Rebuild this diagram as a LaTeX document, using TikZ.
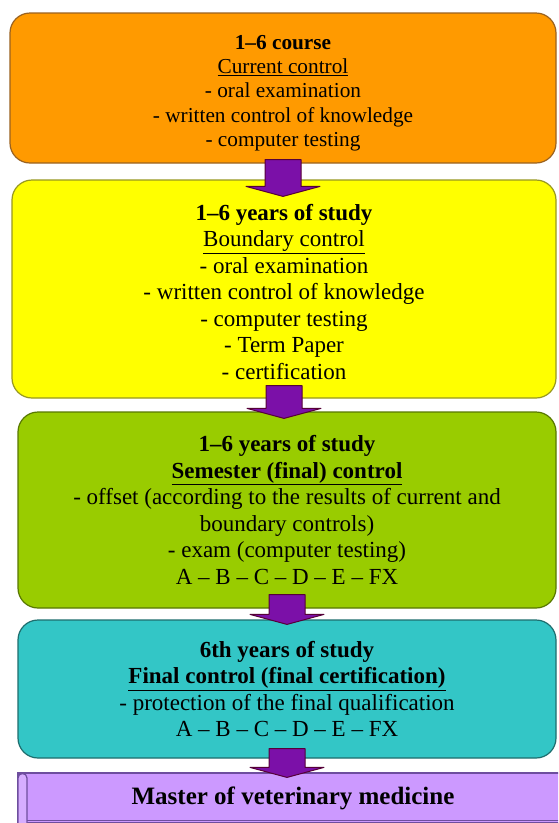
\documentclass[tikz,border=0pt]{standalone}
\usepackage{fontspec}
\setmainfont{Liberation Serif}
\usetikzlibrary{calc}

\definecolor{coursefill}{HTML}{FF9A00}
\definecolor{courseline}{HTML}{9A6220}
\definecolor{boundfill}{HTML}{FFFF00}
\definecolor{boundline}{HTML}{989820}
\definecolor{semfill}{HTML}{99CC00}
\definecolor{semline}{HTML}{587800}
\definecolor{finalfill}{HTML}{33C6C6}
\definecolor{finalline}{HTML}{1E6E6E}
\definecolor{masterfill}{HTML}{CC99FF}
\definecolor{masterline}{HTML}{6E4E9E}
\definecolor{arrowfill}{HTML}{7B10A8}
\definecolor{arrowline}{HTML}{560038}

\newcommand{\stagearrow}[4]{%
  \draw[flow] let \p1=(#1.south), \p2=(#2.north) in
    (\x1-18pt,\y1+#3pt) -- (\x1-18pt,\y2-#4pt+10pt) -- (\x1-37pt,\y2-#4pt+10pt) -- (\x1,\y2-#4pt)
    -- (\x1+37pt,\y2-#4pt+10pt) -- (\x1+18pt,\y2-#4pt+10pt) -- (\x1+18pt,\y1+#3pt) -- cycle;}

\begin{document}
\begin{tikzpicture}[x=1pt,y=-1pt,stage/.style={rounded corners=20pt,line width=1.2pt,align=center,inner sep=0pt,font=\fontsize{23}{26.5}\selectfont},flow/.style={fill=arrowfill,draw=arrowline,line width=1pt,line join=round},scroll/.style={draw=masterline,fill=masterfill,line width=1.2pt}]
\fill[white] (0,0) rectangle (558,823);
\clip (0,0) rectangle (558,823);
% stages
\node[stage,fill=coursefill,draw=courseline,minimum width=546pt,minimum height=150pt,font=\fontsize{21.3}{24.2}\selectfont] (course) at (283,88) {\rule{0pt}{24.5pt}\textbf{1--6 course}\\\underline{Current control}\\- oral examination\\- written control of knowledge\\- computer testing};
\node[stage,fill=boundfill,draw=boundline,minimum width=544pt,minimum height=218pt] (boundary) at (284,289) {\rule{0pt}{21.6pt}\textbf{1--6 years of study}\\\underline{Boundary control}\\- oral examination\\- written control of knowledge\\- computer testing\\- Term Paper\\- certification};
\node[stage,fill=semfill,draw=semline,minimum width=538pt,minimum height=196pt] (semester) at (287,510) {\textbf{1--6 years of study}\\\textbf{\underline{Semester (final) control}}\\- offset (according to the results of current and\\boundary controls)\\- exam (computer testing)\\A -- B -- C -- D -- E -- FX};
\node[stage,fill=finalfill,draw=finalline,minimum width=538pt,minimum height=138pt] (final) at (287,689) {\textbf{6th years of study}\\\textbf{\underline{Final control (final certification)}}\\- protection of the final qualification\\A -- B -- C -- D -- E -- FX};
% scroll at the bottom
\node[scroll,inner sep=0pt,minimum width=550pt,minimum height=50pt,font=\fontsize{25}{28}\selectfont\bfseries] (master) at (293,798) {Master of veterinary medicine};
\draw[scroll,fill=masterfill!80!white] (18,823) -- (18,778) arc[start angle=180,end angle=0,radius=4.5pt] -- (27,823);
\draw[masterline,line width=1pt] (27,820) -- (568,820);
% arrows
\stagearrow{course}{boundary}{4}{17}
\stagearrow{boundary}{semester}{13}{7}
\stagearrow{semester}{final}{14}{5}
\stagearrow{final}{master}{10}{5}
\end{tikzpicture}
\end{document}
